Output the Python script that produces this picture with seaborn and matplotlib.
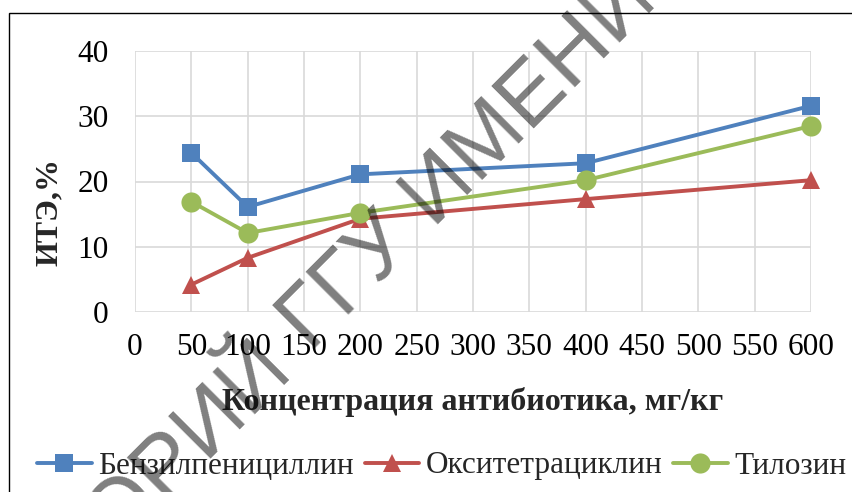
import matplotlib
matplotlib.use("Agg")
import matplotlib.pyplot as plt
import seaborn as sns
import pandas as pd
from matplotlib.patches import Rectangle

# ---- data ----
concentration = [50, 100, 200, 400, 600]
benzylpenicillin = [24.4, 16.1, 21.1, 22.8, 31.6]
oxytetracycline = [4.2, 8.3, 14.3, 17.3, 20.2]
tylosin = [16.9, 12.1, 15.2, 20.2, 28.5]
series_names = ["Бензилпенициллин", "Окситетрациклин", "Тилозин"]
x_ticks = [0, 50, 100, 150, 200, 250, 300, 350, 400, 450, 500, 550, 600]
y_ticks = [0, 10, 20, 30, 40]
x_label = "Концентрация антибиотика, мг/кг"
y_label = "ИТЭ,%"

sns.set_theme(style="white")
plt.rcParams["font.family"] = ["Liberation Serif", "DejaVu Serif"]

W, H = 852, 492
fig = plt.figure(figsize=(W / 100, H / 100), dpi=100)
ax = fig.add_axes([135 / W, 1 - 312 / H, (811 - 135) / W, (312 - 51) / H])

colors = ["#4F81BD", "#C0504D", "#9BBB59"]
markers = ["s", "^", "o"]
msizes = [13.5, 13.5, 14.5]
data = [benzylpenicillin, oxytetracycline, tylosin]

for name, vals, c, m, ms in zip(series_names, data, colors, markers, msizes):
    df = pd.DataFrame({"x": concentration, "y": vals})
    sns.lineplot(data=df, x="x", y="y", ax=ax, color=c, marker=m,
                 markersize=ms, markeredgecolor=c, markeredgewidth=0,
                 linewidth=2.8, label=name, clip_on=False, zorder=3)

ax.set_xlim(0, 600)
ax.set_ylim(0, 40)
ax.set_xticks(x_ticks)
ax.set_yticks(y_ticks)
ax.grid(True, color="#D9D9D9", linewidth=1.2)
for s in ax.spines.values():
    s.set_visible(False)
ax.tick_params(axis="both", length=0, labelsize=22.5, colors="black")
ax.tick_params(axis="x", pad=15)
ax.tick_params(axis="y", pad=19)
ax.set_xlabel(x_label, fontsize=23, fontweight="bold", labelpad=18)
ax.set_ylabel(y_label, fontsize=23, fontweight="bold")
ax.yaxis.set_label_coords(-0.105, 0.383)

handles, labels = ax.get_legend_handles_labels()
ax.get_legend().remove()
fig.legend(handles, labels, loc="center left", bbox_to_anchor=(37 / W, 1 - 466 / H),
           ncol=3, frameon=False, fontsize=22.5, handlelength=1.75,
           handletextpad=0.2, columnspacing=0.35, borderpad=0, borderaxespad=0)

# outer chart frame (cropped on right/bottom)
fig.patches.append(Rectangle((8.5 / W, -0.1), 1.2, 1 - 13 / H + 0.1,
                             transform=fig.transFigure, fill=False,
                             edgecolor="black", linewidth=1.0, zorder=0))

# watermark
wm_kw = dict(fontsize=63, family=["Liberation Sans", "DejaVu Sans"], color="black",
             alpha=0.5, rotation=45, rotation_mode="anchor", va="baseline", zorder=20)
fig.text(310 / W, 1 - 352 / H, "ГГУ ИМЕНИ Ф. СКОРИНЫ", ha="left", **wm_kw)
fig.text(293 / W, 1 - 369 / H, "РЕПОЗИТОРИЙ", ha="right", **wm_kw)

fig.savefig("out.png", dpi=100)
